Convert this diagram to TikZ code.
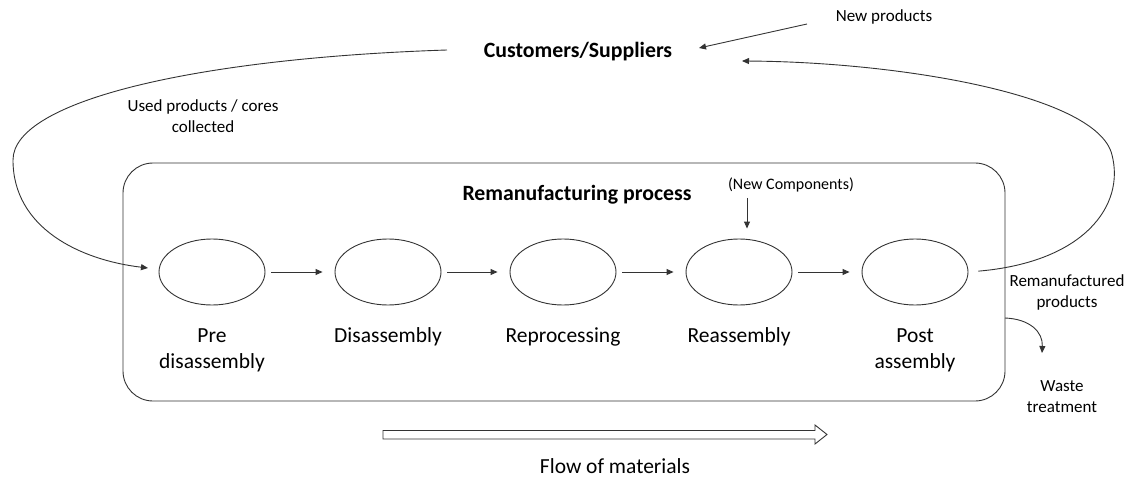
\documentclass[tikz,border=0pt]{standalone}
\usepackage{fontspec}
\setmainfont{Carlito}
\usetikzlibrary{shapes.geometric,arrows.meta}
\begin{document}
\begin{tikzpicture}[x=1pt,y=-1pt,
  line/.style={draw=black!80,line width=0.9pt},
  arr/.style={line,-{Triangle[length=7pt,width=6pt]}},
  stage/.style={line,ellipse,minimum width=106pt,minimum height=66pt,inner sep=0pt},
  lbl/.style={align=center,font=\fontsize{21.5}{26}\selectfont},
  small/.style={align=center,font=\fontsize{17}{21}\selectfont},
  head/.style={font=\fontsize{21.8}{26}\selectfont\bfseries}]
\useasboundingbox (0,0) rectangle (1129,481);

% process frame
\node[line,rounded corners=30pt,minimum width=882pt,minimum height=238pt,inner sep=0pt] (box) at (564,282) {};
\node[head] (proc) at (577,195) {Remanufacturing process};
\node[head] (cust) at (578,52) {Customers/Suppliers};

% stages
\foreach \i/\x in {1/212,2/388,3/563,4/739,5/915}
  \node[stage] (e\i) at (\x,272) {};
\node[lbl] (l1) at (212,350) {Pre\\disassembly};
\node[lbl] (l2) at (388,337) {Disassembly};
\node[lbl] (l3) at (563,337) {Reprocessing};
\node[lbl] (l4) at (739,337) {Reassembly};
\node[lbl] (l5) at (915,350) {Post\\assembly};

\foreach \a/\b in {1/2,2/3,3/4,4/5}
  \draw[arr,shorten <=6pt,shorten >=12pt] (e\a.east) -- (e\b.west);

% new components feed
\node[small,font=\fontsize{16}{20}\selectfont] (nc) at (791,185) {(New Components)};
\coordinate (ncin) at (747,198);
\draw[arr,shorten >=10pt] (ncin) -- (e4.north -| ncin);

% collection loop
\coordinate (cout) at (447,50);
\coordinate (e1in) at (148,268);
\draw[arr] (cout) .. controls (200,58) and (13,100) .. (13,160)
  .. controls (13,228) and (80,260) .. (e1in);
\node[small] (used) at (203,116) {Used products / cores\\collected};

% return loop
\coordinate (cret) at (742,61);
\draw[arr,shorten <=10pt] (e5.east) .. controls (1085,262) and (1125,205) .. (1112,155)
  .. controls (1098,95) and (900,62) .. (cret);
\node[small] (reman) at (1067,292) {Remanufactured\\products};

% new products
\node[small] (np) at (884,17) {New products};
\coordinate (npa) at (807,24);
\coordinate (npb) at (699,48);
\draw[arr] (npa) -- (npb);

% waste
\coordinate (wout) at (1005,318);
\coordinate (wend) at (1042,353);
\draw[arr] (wout) .. controls (1030,319) and (1043,332) .. (wend);
\node[small] (waste) at (1062,397) {Waste\\treatment};

% flow of materials
\draw[line] (383,430.5) -- (815,430.5) -- (815,425) -- (827,434.5) -- (815,444) -- (815,439) -- (383,439) -- cycle;
\node[lbl] (flow) at (615,466) {Flow of materials};
\end{tikzpicture}
\end{document}
